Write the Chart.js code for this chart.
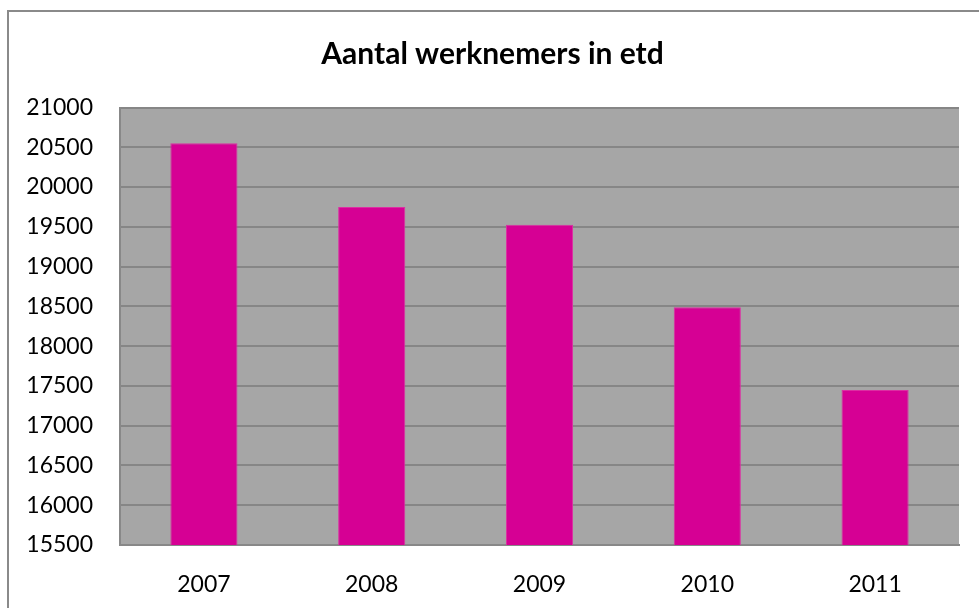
<!DOCTYPE html>
<html>
<head>
<meta charset="utf-8">
<script src="https://cdn.jsdelivr.net/npm/chart.js@4.4.0/dist/chart.umd.min.js"></script>
<style>
    html, body { margin: 0; padding: 0; background: #fff; overflow: hidden; }
    #frame { position: absolute; left: 7px; top: 10px; width: 2000px; height: 2000px;
             border-left: 2px solid #8a8a8a; border-top: 2px solid #8a8a8a; }
    #wrap { position: absolute; left: 0; top: 0; width: 979px; height: 608px; }
</style>
</head>
<body>
<div id="frame"></div>
<div id="wrap"><canvas id="chart"></canvas></div>
<script>
const years = ['2007', '2008', '2009', '2010', '2011'];
const werknemers = [20550, 19750, 19525, 18490, 17450];
const yMin = 15500;
const yMax = 21000;
const yStep = 500;

// fond gris de la zone de tracé
const plotBackground = {
    id: 'plotBackground',
    beforeDraw(chart) {
        const { ctx, chartArea } = chart;
        ctx.save();
        ctx.fillStyle = '#a6a6a6';
        ctx.fillRect(chartArea.left, chartArea.top, chartArea.right - chartArea.left, chartArea.bottom - chartArea.top);
        ctx.restore();
    }
};

new Chart(document.getElementById('chart'), {
    type: 'bar',
    data: {
        labels: years,
        datasets: [{
            label: 'Aantal werknemers',
            data: werknemers,
            backgroundColor: '#d60094',
            borderColor: '#dc2ea2',
            borderWidth: 1,
            barPercentage: 0.4,
            categoryPercentage: 1
        }]
    },
    options: {
        responsive: true,
        maintainAspectRatio: false,
        animation: false,
        layout: { padding: { left: 26, right: 20, top: 10, bottom: 0 } },
        plugins: {
            legend: { display: false },
            tooltip: { enabled: false },
            title: {
                display: true,
                text: 'Aantal werknemers in etd',
                color: '#000',
                font: { family: 'Lato', size: 30, weight: 'bold' },
                padding: { top: 26, bottom: 35.5 }
            }
        },
        scales: {
            x: {
                grid: { display: false },
                border: { display: true, color: '#888888', width: 2 },
                ticks: { color: '#000', font: { family: 'Lato', size: 23 }, padding: 18 },
                afterFit(s) { s.height = 63; }
            },
            y: {
                min: yMin,
                max: yMax,
                grid: { color: '#868686', lineWidth: 2, drawTicks: false },
                border: { display: true, color: '#888888', width: 2 },
                ticks: {
                    stepSize: yStep,
                    color: '#000',
                    font: { family: 'Lato', size: 23 },
                    padding: 27,
                    callback: v => String(v)
                },
                afterFit(s) { s.width = 94; }
            }
        }
    },
    plugins: [plotBackground]
});
</script>
</body>
</html>
